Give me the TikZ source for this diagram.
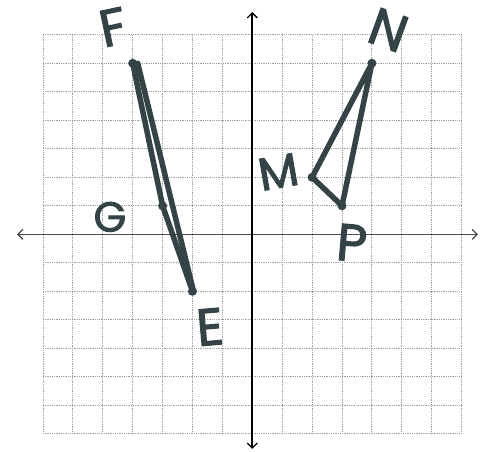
\documentclass[tikz,border=0pt]{standalone}
\usepackage{fontspec}
\setmainfont{Poppins}
\newfontfamily\markerfont[FakeBold=2.2]{Poppins}
\usetikzlibrary{arrows.meta}
\definecolor{marker}{RGB}{52,68,70}
\definecolor{gridc}{RGB}{160,160,160}
\definecolor{axisc}{RGB}{75,75,75}
\begin{document}
\begin{tikzpicture}[x=29.9pt,y=28.5pt,
  gridline/.style={gridc,line width=0.9pt,dash pattern=on 1pt off 0.8pt},
  axisline/.style={axisc,line width=1.5pt,{Straight Barb[length=5pt,width=10pt,line width=1.3pt]}-{Straight Barb[length=5pt,width=10pt,line width=1.3pt]}},
  seg/.style={marker,line width=5.5pt,line cap=round,line join=round},
  vdot/.style={circle,fill=marker,inner sep=0pt,minimum size=9pt},
  lbl/.style={text=marker,font=\markerfont\fontsize{52}{52}\selectfont,inner sep=0pt}]
\useasboundingbox (-8.438,-7.604) rectangle (7.682,8.221);
\fill[white] (-8.438,-7.604) rectangle (7.682,8.221);
% grid
\foreach \i in {-7,...,7}{
  \draw[gridline] (\i,-7) -- (\i,7);
  \draw[gridline] (-7,\i) -- (7,\i);
}
% axes
\coordinate (xl) at (-7.87,0);
\coordinate (xr) at (7.55,0);
\coordinate (yt) at (0,7.8);
\coordinate (yb) at (0,-7.53);
\draw[axisline] (xl) -- (xr);
\draw[axisline,black,line width=1.7pt] (yb) -- (yt);
% vertices
\coordinate (F) at (-4,6);
\coordinate (G) at (-3,1);
\coordinate (E) at (-2,-2);
\coordinate (M) at (2,2);
\coordinate (N) at (4,6);
\coordinate (P) at (3,1);
\draw[seg] (F) -- (G) -- (E);
\draw[seg] ([xshift=5pt]F) -- ([xshift=1pt]E);
\draw[seg] (M) -- (N) -- (P) -- cycle;
\foreach \v in {F,G,E,M,N,P} \node[vdot] (d\v) at (\v) {};
% labels
\node[lbl,rotate=12] (lF) at (-4.66,7.27) {F};
\node[lbl,rotate=-20] (lN) at (4.55,7.17) {N};
\node[lbl,rotate=10,font=\markerfont\fontsize{46}{46}\selectfont] (lM) at (0.87,2.19) {M};
\node[lbl,rotate=-5] (lP) at (3.33,-0.3) {P};
\node[lbl,font=\markerfont\fontsize{42}{42}\selectfont] (lG) at (-4.76,0.61) {G};
\node[lbl,rotate=5] (lE) at (-1.42,-3.25) {E};
\end{tikzpicture}
\end{document}
